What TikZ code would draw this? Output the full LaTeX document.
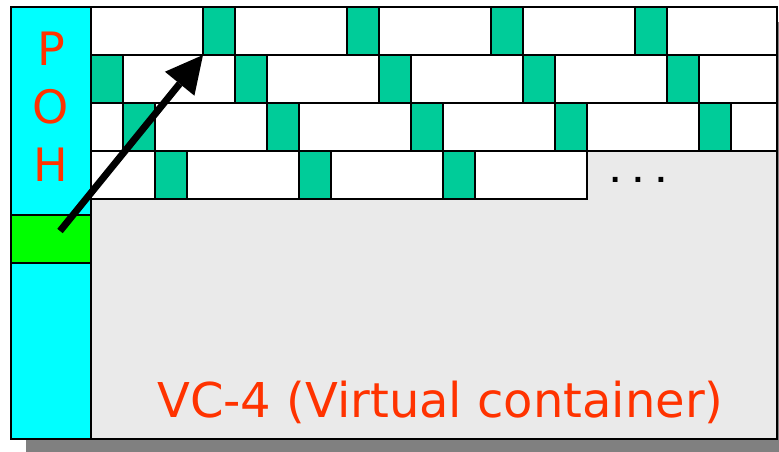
\documentclass[tikz,border=0pt]{standalone}
\usepackage{fontspec}
\setmainfont{DejaVu Sans}
\usetikzlibrary{arrows.meta}
\definecolor{pohcyan}{HTML}{00FFFF}
\definecolor{ptrgreen}{HTML}{00FF00}
\definecolor{byteteal}{HTML}{00CC99}
\definecolor{payloadgray}{HTML}{EAEAEA}
\definecolor{labelred}{HTML}{FF3300}
\definecolor{shadowgray}{HTML}{808080}
\begin{document}
\begin{tikzpicture}[x=1pt,y=-1pt,
  box/.style={draw=black,line width=1.2pt,rectangle,inner sep=0pt,outer sep=0pt,anchor=north west},
  bytecell/.style={box,fill=byteteal,minimum width=32pt,minimum height=48pt},
  rowbox/.style={box,fill=white,minimum height=48pt},
  label/.style={text=labelred,inner sep=0pt},
  pointer/.style={line width=7pt,-{Triangle[length=37pt,width=38pt,line width=0pt]}}]
\useasboundingbox (0,0) rectangle (779,452);
\clip (0,0) rectangle (779,452);
% drop shadow
\fill[shadowgray] (26,22) rectangle (795,460);
% container body, path overhead column and pointer byte
\node[box,fill=payloadgray,minimum width=766pt,minimum height=432pt] (vc) at (11,7) {};
\node[box,fill=pohcyan,minimum width=80pt,minimum height=432pt] (poh) at (11,7) {};
\node[box,fill=ptrgreen,minimum width=80pt,minimum height=48pt] (ptr) at (11,215) {};
% payload rows
\foreach \r/\w in {1/686,2/686,3/686,4/496}
  \node[rowbox,minimum width=\w pt] (row\r) at (91,{7+48*(\r-1)}) {};
% marked bytes, repeating every 144pt and shifting one byte per row
\foreach \r/\x/\n in {1/203/3,2/91/4,3/123/4,4/155/2}
  \foreach \k in {0,...,\n}
    \node[bytecell] (c\r-\k) at ({\x+144*\k},{7+48*(\r-1)}) {};
% labels
\node[label,font=\fontsize{46}{46}\selectfont,anchor=base] (lp) at (51,66) {P};
\node[label,font=\fontsize{46}{46}\selectfont,anchor=base] (lo) at (51,123.5) {O};
\node[label,font=\fontsize{46}{46}\selectfont,anchor=base] (lh) at (51,181) {H};
\node[label,font=\fontsize{48}{48}\selectfont,anchor=base west] (vclabel) at (157,417) {VC-4 (Virtual container)};
\node[inner sep=0pt,font=\fontsize{27}{27}\selectfont\bfseries,anchor=base west] (more) at (610,182) {. . .};
% pointer into the payload
\coordinate (src) at (60,231);
\draw[pointer] (src) -- (c1-0.south west);
\end{tikzpicture}
\end{document}
